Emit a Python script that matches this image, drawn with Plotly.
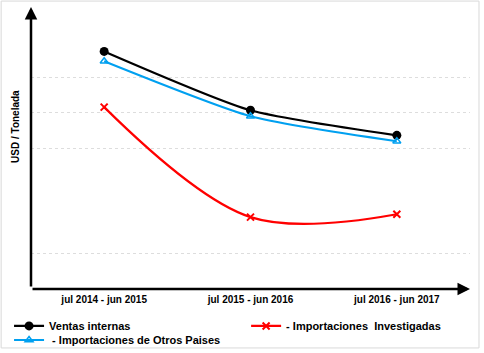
import plotly.graph_objects as go

categories = ["jul 2014 - jun 2015", "jul 2015 - jun 2016", "jul 2016 - jun 2017"]
ventas_internas = [6.74, 5.07, 4.36]
importaciones_otros = [6.46, 4.90, 4.19]
importaciones_investigadas = [5.16, 2.04, 2.12]
grid_vals = [1, 4, 5, 6, 8]

NB = "\u00a0"
fig = go.Figure()
fig.add_trace(go.Scatter(
    x=categories, y=ventas_internas, name="Ventas internas",
    mode="lines+markers", line=dict(color="black", width=2.2, shape="spline", smoothing=0.6),
    marker=dict(symbol="circle", size=9, color="black"), legend="legend"))
fig.add_trace(go.Scatter(
    x=categories, y=importaciones_investigadas, name="- Importaciones" + NB + NB + "Investigadas",
    mode="lines+markers", line=dict(color="#ff0000", width=2.2, shape="spline", smoothing=1.0),
    marker=dict(symbol="x-thin", size=7, color="#ff0000", line=dict(color="#ff0000", width=2)),
    legend="legend3"))
fig.add_trace(go.Scatter(
    x=categories, y=importaciones_otros, name=NB + "- Importaciones de Otros Paises",
    mode="lines+markers", line=dict(color="#00a0f0", width=2, shape="spline", smoothing=0.6),
    marker=dict(symbol="triangle-up-open", size=7, color="#00a0f0", line=dict(color="#00a0f0", width=1.5)),
    legend="legend2"))

fnt = "Liberation Sans, Arial, sans-serif"
legfont = dict(size=11, family=fnt, weight="bold")
fig.update_layout(
    width=484, height=353,
    margin=dict(l=31, r=14, t=7, b=64, autoexpand=False),
    paper_bgcolor="white", plot_bgcolor="white",
    font=dict(family=fnt, color="black"),
    xaxis=dict(type="category", range=[-0.5, 2.5], showgrid=False, showline=False,
               zeroline=False, ticks="", tickfont=dict(size=10, family=fnt, weight="bold"),
               ticklabelstandoff=3),
    yaxis=dict(range=[0, 8], tickvals=grid_vals, showticklabels=False, showgrid=True,
               gridcolor="#dddddd", griddash="dot", gridwidth=1, zeroline=False, showline=False),
    legend=dict(orientation="h", x=-0.05, xanchor="left", y=-0.131, yanchor="middle",
                bgcolor="rgba(0,0,0,0)", font=legfont, itemwidth=30),
    legend3=dict(orientation="h", x=0.49, xanchor="left", y=-0.131, yanchor="middle",
                 bgcolor="rgba(0,0,0,0)", font=legfont, itemwidth=30),
    legend2=dict(orientation="h", x=-0.05, xanchor="left", y=-0.181, yanchor="middle",
                 bgcolor="rgba(0,0,0,0)", font=legfont, itemwidth=30),
    showlegend=True,
)

# axis lines with arrowheads
fig.add_annotation(x=0, y=1.0, xref="paper", yref="paper", ax=0, ay=281,
                   showarrow=True, arrowhead=2, arrowsize=1, arrowwidth=2.5, arrowcolor="black", text="")
fig.add_annotation(x=1, y=0, xref="paper", yref="paper", ax=-439, ay=0,
                   showarrow=True, arrowhead=2, arrowsize=1, arrowwidth=2.5, arrowcolor="black", text="")
fig.add_annotation(x=-0.034, y=0.575, xref="paper", yref="paper", text="USD / Tonelada", textangle=-90,
                   showarrow=False, font=dict(size=10, family=fnt, weight="bold"), xanchor="center", yanchor="middle")
# outer frame
fig.add_shape(type="rect", xref="paper", yref="paper", x0=-0.068, x1=1.0205, y0=-0.209, y1=1.021,
              line=dict(color="#d9d9d9", width=1), layer="below")

fig.write_html("out.html")
